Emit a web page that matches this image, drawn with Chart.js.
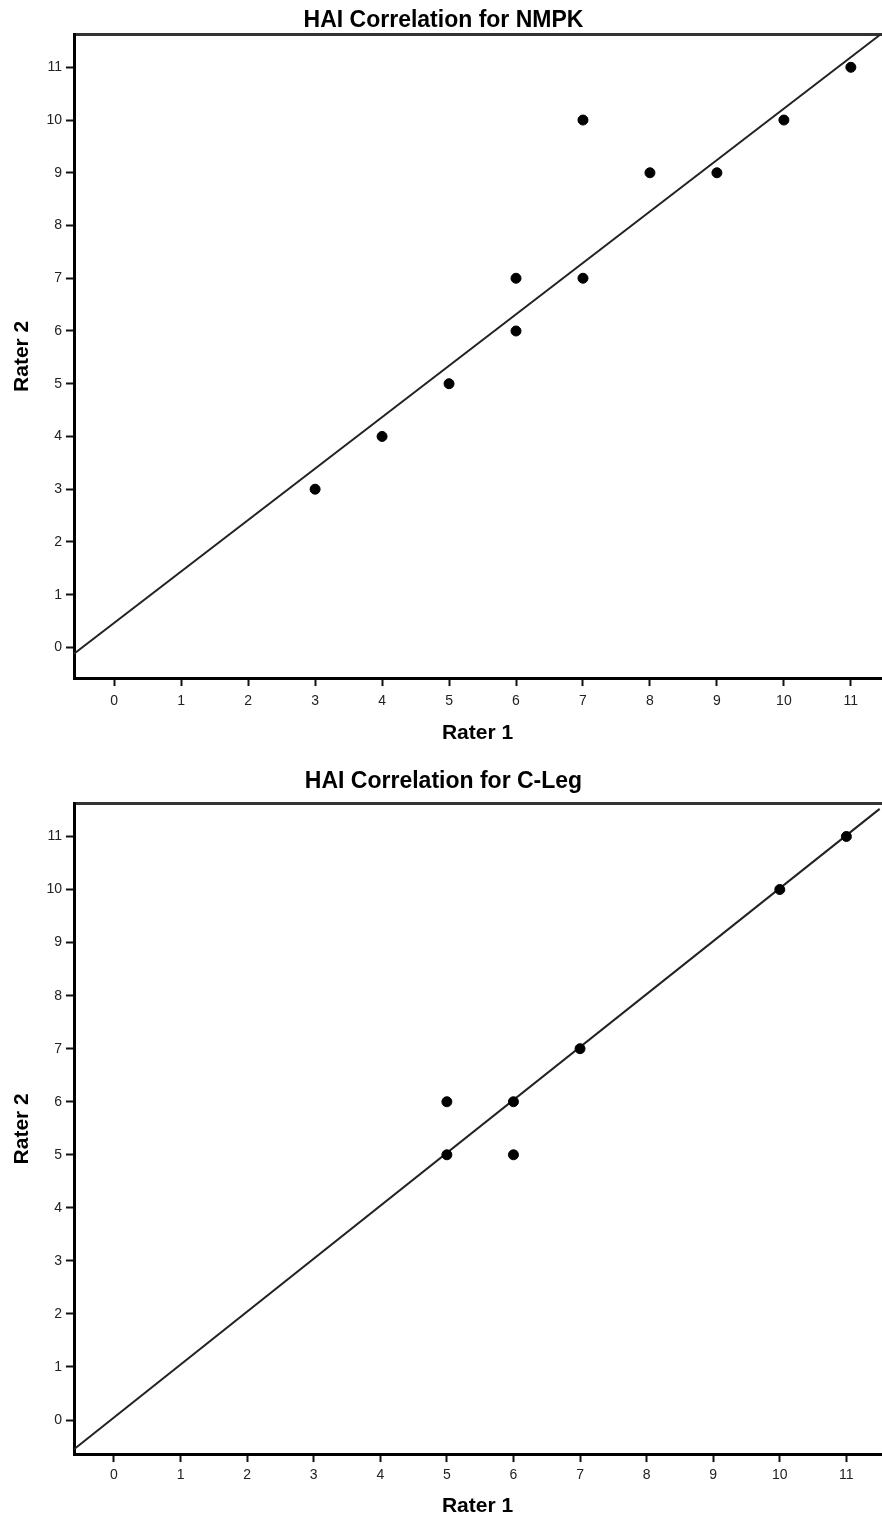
<!DOCTYPE html>
<html>
<head>
<meta charset="utf-8">
<script src="https://cdn.jsdelivr.net/npm/chart.js@4/dist/chart.umd.min.js"></script>
<style>
  html, body { margin: 0; background: #fff; overflow: hidden; }
  .box { position: relative; width: 887px; }
  #b1 { height: 760px; }
  #b2 { height: 759px; }
</style>
</head>
<body>
<div class="box" id="b1"><canvas id="chart1"></canvas></div>
<div class="box" id="b2"><canvas id="chart2"></canvas></div>
<script>
// rater scores, NMPK
let nmpkRater1 = [3, 4, 5, 6, 6, 7, 7, 8, 9, 10, 11];
let nmpkRater2 = [3, 4, 5, 6, 7, 7, 10, 9, 9, 10, 11];
// fit line ends
let nmpkFitX = [-0.6, 11.45];
let nmpkFitY = [-0.12, 11.63];

// rater scores, C-Leg
let clegRater1 = [5, 5, 6, 6, 7, 10, 11];
let clegRater2 = [5, 6, 5, 6, 7, 10, 11];
let clegFitX = [-0.6, 11.5];
let clegFitY = [-0.55, 11.52];

let tickValues = [0, 1, 2, 3, 4, 5, 6, 7, 8, 9, 10, 11];

const FONT = "Arial, 'Liberation Sans', sans-serif";

function pts(xs, ys) {
  return xs.map((x, i) => ({ x: x, y: ys[i] }));
}

function setTicks(scale) {
  scale.ticks = tickValues.map(v => ({ value: v }));
}

function makeChart(id, title, r1, r2, fx, fy, xMax, yMin, lay) {
  new Chart(id, {
    type: "scatter",
    data: {
      datasets: [{
        label: "Points",
        data: pts(r1, r2),
        backgroundColor: "#000",
        borderColor: "#000",
        pointRadius: 5,
        pointHoverRadius: 5
      }, {
        label: "Fit",
        type: "line",
        data: pts(fx, fy),
        borderColor: "#222",
        borderWidth: 2,
        pointRadius: 0,
        fill: false
      }]
    },
    options: {
      animation: false,
      responsive: true,
      maintainAspectRatio: false,
      layout: { padding: { top: 0, right: 0, left: 0, bottom: lay.bottom } },
      plugins: {
        legend: { display: false },
        tooltip: { enabled: false },
        title: {
          display: true,
          text: title,
          color: "#000",
          font: { family: FONT, size: 23, weight: "bold" },
          padding: { top: lay.titleTop, bottom: lay.titleBottom }
        }
      },
      scales: {
        x: {
          type: "linear",
          position: "bottom",
          min: -0.6,
          max: xMax,
          afterBuildTicks: setTicks,
          grid: { display: true, drawOnChartArea: false, drawTicks: true, tickLength: 8, tickColor: "#111", tickWidth: 2 },
          border: { display: true, color: "#000", width: 3 },
          ticks: { color: "#222", padding: lay.xPad, font: { family: FONT, size: 14 } },
          title: {
            display: true,
            text: "Rater 1",
            color: "#000",
            font: { family: FONT, size: 21, weight: "bold" },
            padding: { top: lay.xTitleTop, bottom: 0 }
          }
        },
        top: {
          type: "linear",
          position: "top",
          display: true,
          min: -0.6,
          max: xMax,
          grid: { display: true, drawOnChartArea: false, drawTicks: false },
          border: { display: true, color: "#333", width: 3 },
          ticks: { display: false }
        },
        y: {
          type: "linear",
          min: yMin,
          max: 11.62,
          afterBuildTicks: setTicks,
          afterFit: function (scale) { scale.width = 74; },
          grid: { display: true, drawOnChartArea: false, drawTicks: true, tickLength: 8, tickColor: "#111", tickWidth: 2 },
          border: { display: true, color: "#000", width: 3 },
          ticks: { color: "#222", padding: 4, font: { family: FONT, size: 14 } },
          title: {
            display: true,
            text: "Rater 2",
            color: "#000",
            font: { family: FONT, size: 21, weight: "bold" },
            padding: { top: 10, bottom: 0 }
          }
        }
      }
    }
  });
}

makeChart("chart1", "HAI Correlation for NMPK", nmpkRater1, nmpkRater2, nmpkFitX, nmpkFitY, 11.45, -0.58,
  { bottom: 14, titleTop: 7, titleBottom: 0, xPad: 7, xTitleTop: 4 });
makeChart("chart2", "HAI Correlation for C-Leg", clegRater1, clegRater2, clegFitX, clegFitY, 11.52, -0.64,
  { bottom: 0, titleTop: 8, titleBottom: 8, xPad: 5, xTitleTop: 5 });
</script>
</body>
</html>
